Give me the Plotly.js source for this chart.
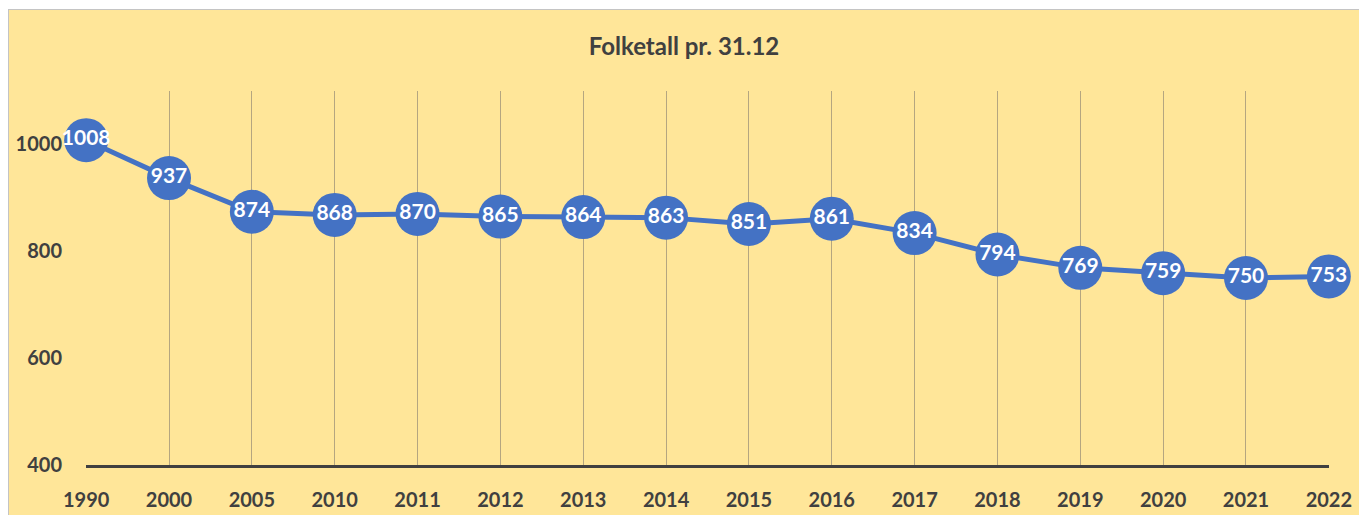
<!DOCTYPE html>
<html>
<head>
<meta charset="utf-8">
<script src="https://cdn.plot.ly/plotly-3.0.1.min.js"></script>
<style>
html,body{margin:0;padding:0;background:#ffffff;width:1359px;height:515px;overflow:hidden;}
#frame{position:absolute;left:8px;top:9px;border-left:1px solid #c4c4c4;border-top:1px solid #c4c4c4;width:1350px;height:505px;}
#chart{width:1350px;height:505px;}
</style>
</head>
<body>
<div id="frame"><div id="chart"></div></div>
<script>
var years = ["1990","2000","2005","2010","2011","2012","2013","2014","2015","2016","2017","2018","2019","2020","2021","2022"];
var population = [1008, 937, 874, 868, 870, 865, 864, 863, 851, 861, 834, 794, 769, 759, 750, 753];
var yTicks = [400, 600, 800, 1000];

var idx = years.map(function(_, i){ return i; });
var fontFam = "Lato, 'Open Sans', sans-serif";
var textCol = "#404040";

var trace = {
  x: idx,
  y: population,
  type: "scatter",
  mode: "lines+markers+text",
  line: {color: "#4472C4", width: 5},
  marker: {color: "#4472C4", size: 44, line: {width: 0}},
  text: population.map(String),
  textposition: "middle center",
  textfont: {family: fontFam, size: 21, color: "#ffffff", weight: "bold"},
  cliponaxis: false,
  hoverinfo: "skip"
};

var layout = {
  width: 1350,
  height: 505,
  margin: {l: 77, r: 30, t: 81, b: 50},
  paper_bgcolor: "#FFE699",
  plot_bgcolor: "#FFE699",
  showlegend: false,
  title: {
    text: "<b>Folketall pr. 31.12</b>",
    font: {family: fontFam, size: 24, color: textCol},
    x: 0.5, xanchor: "center",
    y: 1 - (47 - 10) / 505, yanchor: "middle"
  },
  xaxis: {
    range: [-0.002, 15.002],
    tickmode: "array",
    tickvals: idx,
    ticktext: years,
    showgrid: true,
    gridcolor: "#b5a680",
    gridwidth: 1,
    zeroline: false,
    showline: true,
    linecolor: "#404040",
    linewidth: 3,
    ticks: "outside",
    ticklen: 15,
    tickcolor: "rgba(0,0,0,0)",
    tickfont: {family: fontFam, size: 20, color: textCol, weight: "bold"},
    fixedrange: true
  },
  yaxis: {
    range: [400, 1100],
    tickmode: "array",
    tickvals: yTicks,
    ticktext: yTicks.map(String),
    showgrid: false,
    zeroline: false,
    showline: false,
    ticks: "outside",
    ticklen: 19,
    tickcolor: "rgba(0,0,0,0)",
    tickfont: {family: fontFam, size: 20, color: textCol, weight: "bold"},
    fixedrange: true
  }
};

Plotly.newPlot("chart", [trace], layout, {displayModeBar: false, staticPlot: true});
</script>
</body>
</html>
